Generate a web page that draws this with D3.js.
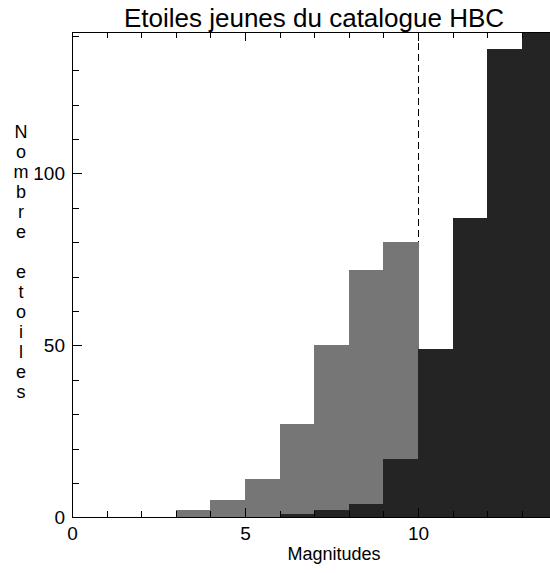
<!DOCTYPE html>
<html><head><meta charset="utf-8">
<script src="https://cdn.jsdelivr.net/npm/d3@7"></script>
<style>body{margin:0;background:#fff}svg{display:block}text{font-family:"Liberation Sans",Arial,sans-serif}</style>
</head><body>
<script>
const binStarts = [0,1,2,3,4,5,6,7,8,9,10,11,12,13];
const grayCounts = [0,0,0,2,5,11,27,50,72,80,0,0,0,0];
const blackCounts = [0,0,0,0,0,0,1,2,4,17,49,87,136,141];
const xTicksMajor = [0,5,10];
const yTicksMajor = [0,50,100];
const titleText = "Etoiles jeunes du catalogue HBC";
const xLabel = "Magnitudes";
const yLabel = "Nombre etoiles";
const cutLine = 10;

(function(){
const W=550,H=573;
const svg=d3.select("body").append("svg").attr("width",W).attr("height",H);
const x=d3.scaleLinear().domain([0,14]).range([72,556.4]);
const y=d3.scaleLinear().domain([0,141]).range([517.3,32.3]);

svg.append("line").attr("x1",x(cutLine)+0.5).attr("x2",x(cutLine)+0.5).attr("y1",y(141)).attr("y2",y(0))
  .attr("stroke","#000").attr("stroke-width",1).attr("stroke-dasharray","7,4")
  .attr("shape-rendering","crispEdges");

const bw = x(1)-x(0);
svg.append("g").attr("shape-rendering","crispEdges").selectAll("rect").data(binStarts).join("rect")
  .attr("x",d=>x(d)).attr("width",bw+0.6)
  .attr("y",(d,i)=>y(grayCounts[i])).attr("height",(d,i)=>Math.max(1,y(0)-y(grayCounts[i])))
  .attr("fill","#767676");
svg.append("g").attr("shape-rendering","crispEdges").selectAll("rect").data(binStarts).join("rect")
  .attr("x",d=>x(d)).attr("width",bw+0.6)
  .attr("y",(d,i)=>y(blackCounts[i])).attr("height",(d,i)=>y(0)-y(blackCounts[i]))
  .attr("fill","#242424");

const xMinor=d3.range(0,15,1), yMinor=d3.range(0,141,10);
svg.append("g").attr("transform",`translate(0,${y(0)})`)
  .call(d3.axisBottom(x).tickValues(xMinor).tickSize(-6).tickFormat(""));
const bottomMaj=svg.append("g").attr("transform",`translate(0,${y(0)})`)
  .call(d3.axisBottom(x).tickValues(xTicksMajor).tickSize(-9).tickPadding(9).tickFormat(d3.format("d")));
bottomMaj.select(".domain").remove();
bottomMaj.selectAll("text").attr("font-size",19).attr("fill","#000");
svg.append("g").attr("transform",`translate(0,${y(141)})`)
  .call(d3.axisTop(x).tickValues(xMinor).tickSize(-6).tickFormat(""));
svg.append("g").attr("transform",`translate(0,${y(141)})`)
  .call(d3.axisTop(x).tickValues(xTicksMajor).tickSize(-9).tickFormat("")).select(".domain").remove();
svg.append("g").attr("transform",`translate(${x(0)},0)`)
  .call(d3.axisLeft(y).tickValues(yMinor).tickSize(-7).tickFormat(""));
const leftMaj=svg.append("g").attr("transform",`translate(${x(0)},0)`)
  .call(d3.axisLeft(y).tickValues(yTicksMajor).tickSize(-10).tickPadding(7).tickFormat(d3.format("d")));
leftMaj.select(".domain").remove();
leftMaj.selectAll("text").attr("font-size",19).attr("fill","#000");
svg.selectAll(".domain").attr("stroke","#000").attr("shape-rendering","crispEdges");
svg.selectAll(".tick line").attr("stroke","#000").attr("shape-rendering","crispEdges");

svg.append("text").attr("x",314).attr("y",27).attr("text-anchor","middle").attr("font-size",26).text(titleText);
svg.append("text").attr("x",334).attr("y",560).attr("text-anchor","middle").attr("font-size",18).text(xLabel);
const yl=svg.append("text").attr("text-anchor","middle").attr("font-size",18);
yLabel.split("").forEach((c,i)=>{
  yl.append("tspan").attr("x",21).attr("y",138+i*20).text(c===" "?"\u00a0":c);
});
})();
</script>
</body></html>
